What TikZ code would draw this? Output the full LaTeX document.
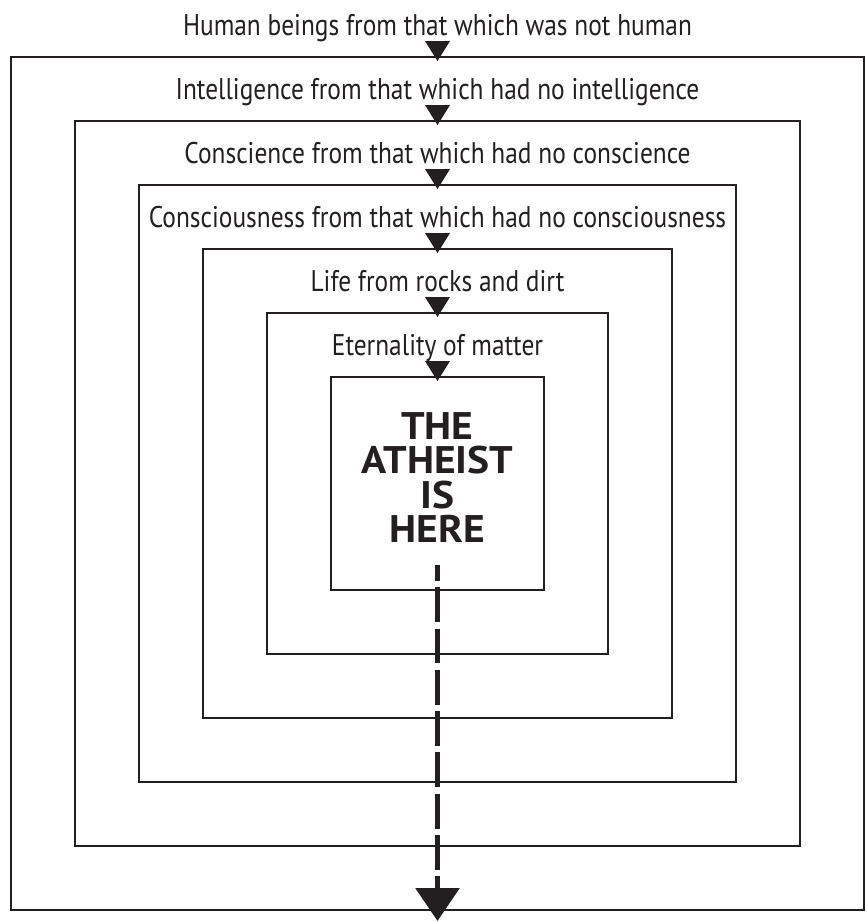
\documentclass[tikz,border=0pt]{standalone}
\usepackage{fontspec}
\setmainfont{PT Sans}
\newfontfamily\lblfont[FakeStretch=0.85]{PT Sans}
\newfontfamily\herefont[FakeStretch=1.08]{PT Sans}
\usepackage{tikz}
\usetikzlibrary{arrows.meta}
\definecolor{ink}{HTML}{231F20}

\tikzset{
  box/.style={draw=ink, line width=1.3pt, inner sep=0pt, outer sep=0pt},
  lbl/.style={font={\lblfont\fontsize{17pt}{19pt}\selectfont}, text=ink, inner sep=0pt, anchor=base},
  here/.style={font={\herefont\bfseries\fontsize{21.9pt}{19.7pt}\selectfont}, text=ink, align=center, inner sep=0pt},
  exit/.style={ink, line width=3.4pt, dash pattern=on 19.8pt off 3.7pt, dash phase=10.8pt,
    -{Triangle[length=18.7pt, width=24.4pt]}}
}

\begin{document}
\begin{tikzpicture}[x=0.02cm, y=-0.02cm]
  \useasboundingbox (0,0) rectangle (866,922);
  % Nested boxes
  \node[box, minimum width=17.06cm, minimum height=17.06cm] (b0) at (437.5,483.5) {};
  \node[box, minimum width=14.5cm, minimum height=14.5cm] (b1) at (437.5,483.5) {};
  \node[box, minimum width=11.94cm, minimum height=11.94cm] (b2) at (437.5,483.5) {};
  \node[box, minimum width=9.38cm, minimum height=9.38cm] (b3) at (437.5,483.5) {};
  \node[box, minimum width=6.82cm, minimum height=6.82cm] (b4) at (437.5,483.5) {};
  \node[box, minimum width=4.26cm, minimum height=4.26cm] (b5) at (437.5,483.5) {};
  %
  % Labels over the boxes
  \node[lbl] (l0) at ([yshift=0.44cm]b0.north) {Human beings from that which was not human};
  \node[lbl] (l1) at ([yshift=0.44cm]b1.north) {Intelligence from that which had no intelligence};
  \node[lbl] (l2) at ([yshift=0.44cm]b2.north) {Conscience from that which had no conscience};
  \node[lbl] (l3) at ([yshift=0.44cm]b3.north) {Consciousness from that which had no consciousness};
  \node[lbl] (l4) at ([yshift=0.44cm]b4.north) {Life from rocks and dirt};
  \node[lbl] (l5) at ([yshift=0.44cm]b5.north) {Eternality of matter};
  %
  % Pointers into each box
  \fill[ink] ([yshift=-0.08cm]b0.north) -- ++(-12.5,-20) -- ++(25,0) -- cycle;
  \fill[ink] ([yshift=-0.08cm]b1.north) -- ++(-12.5,-20) -- ++(25,0) -- cycle;
  \fill[ink] ([yshift=-0.08cm]b2.north) -- ++(-12.5,-20) -- ++(25,0) -- cycle;
  \fill[ink] ([yshift=-0.08cm]b3.north) -- ++(-12.5,-20) -- ++(25,0) -- cycle;
  \fill[ink] ([yshift=-0.08cm]b4.north) -- ++(-12.5,-20) -- ++(25,0) -- cycle;
  \fill[ink] ([yshift=-0.08cm]b5.north) -- ++(-12.5,-20) -- ++(25,0) -- cycle;
  %
  % Centre
  \node[here] (atheist) at (437.5,477.5) {THE\\ATHEIST\\IS\\HERE};
  \coordinate (tail) at (437.5,565);
  \coordinate (tip) at (437.5,921);
  \draw[exit] (tail) -- (tip);
\end{tikzpicture}
\end{document}
